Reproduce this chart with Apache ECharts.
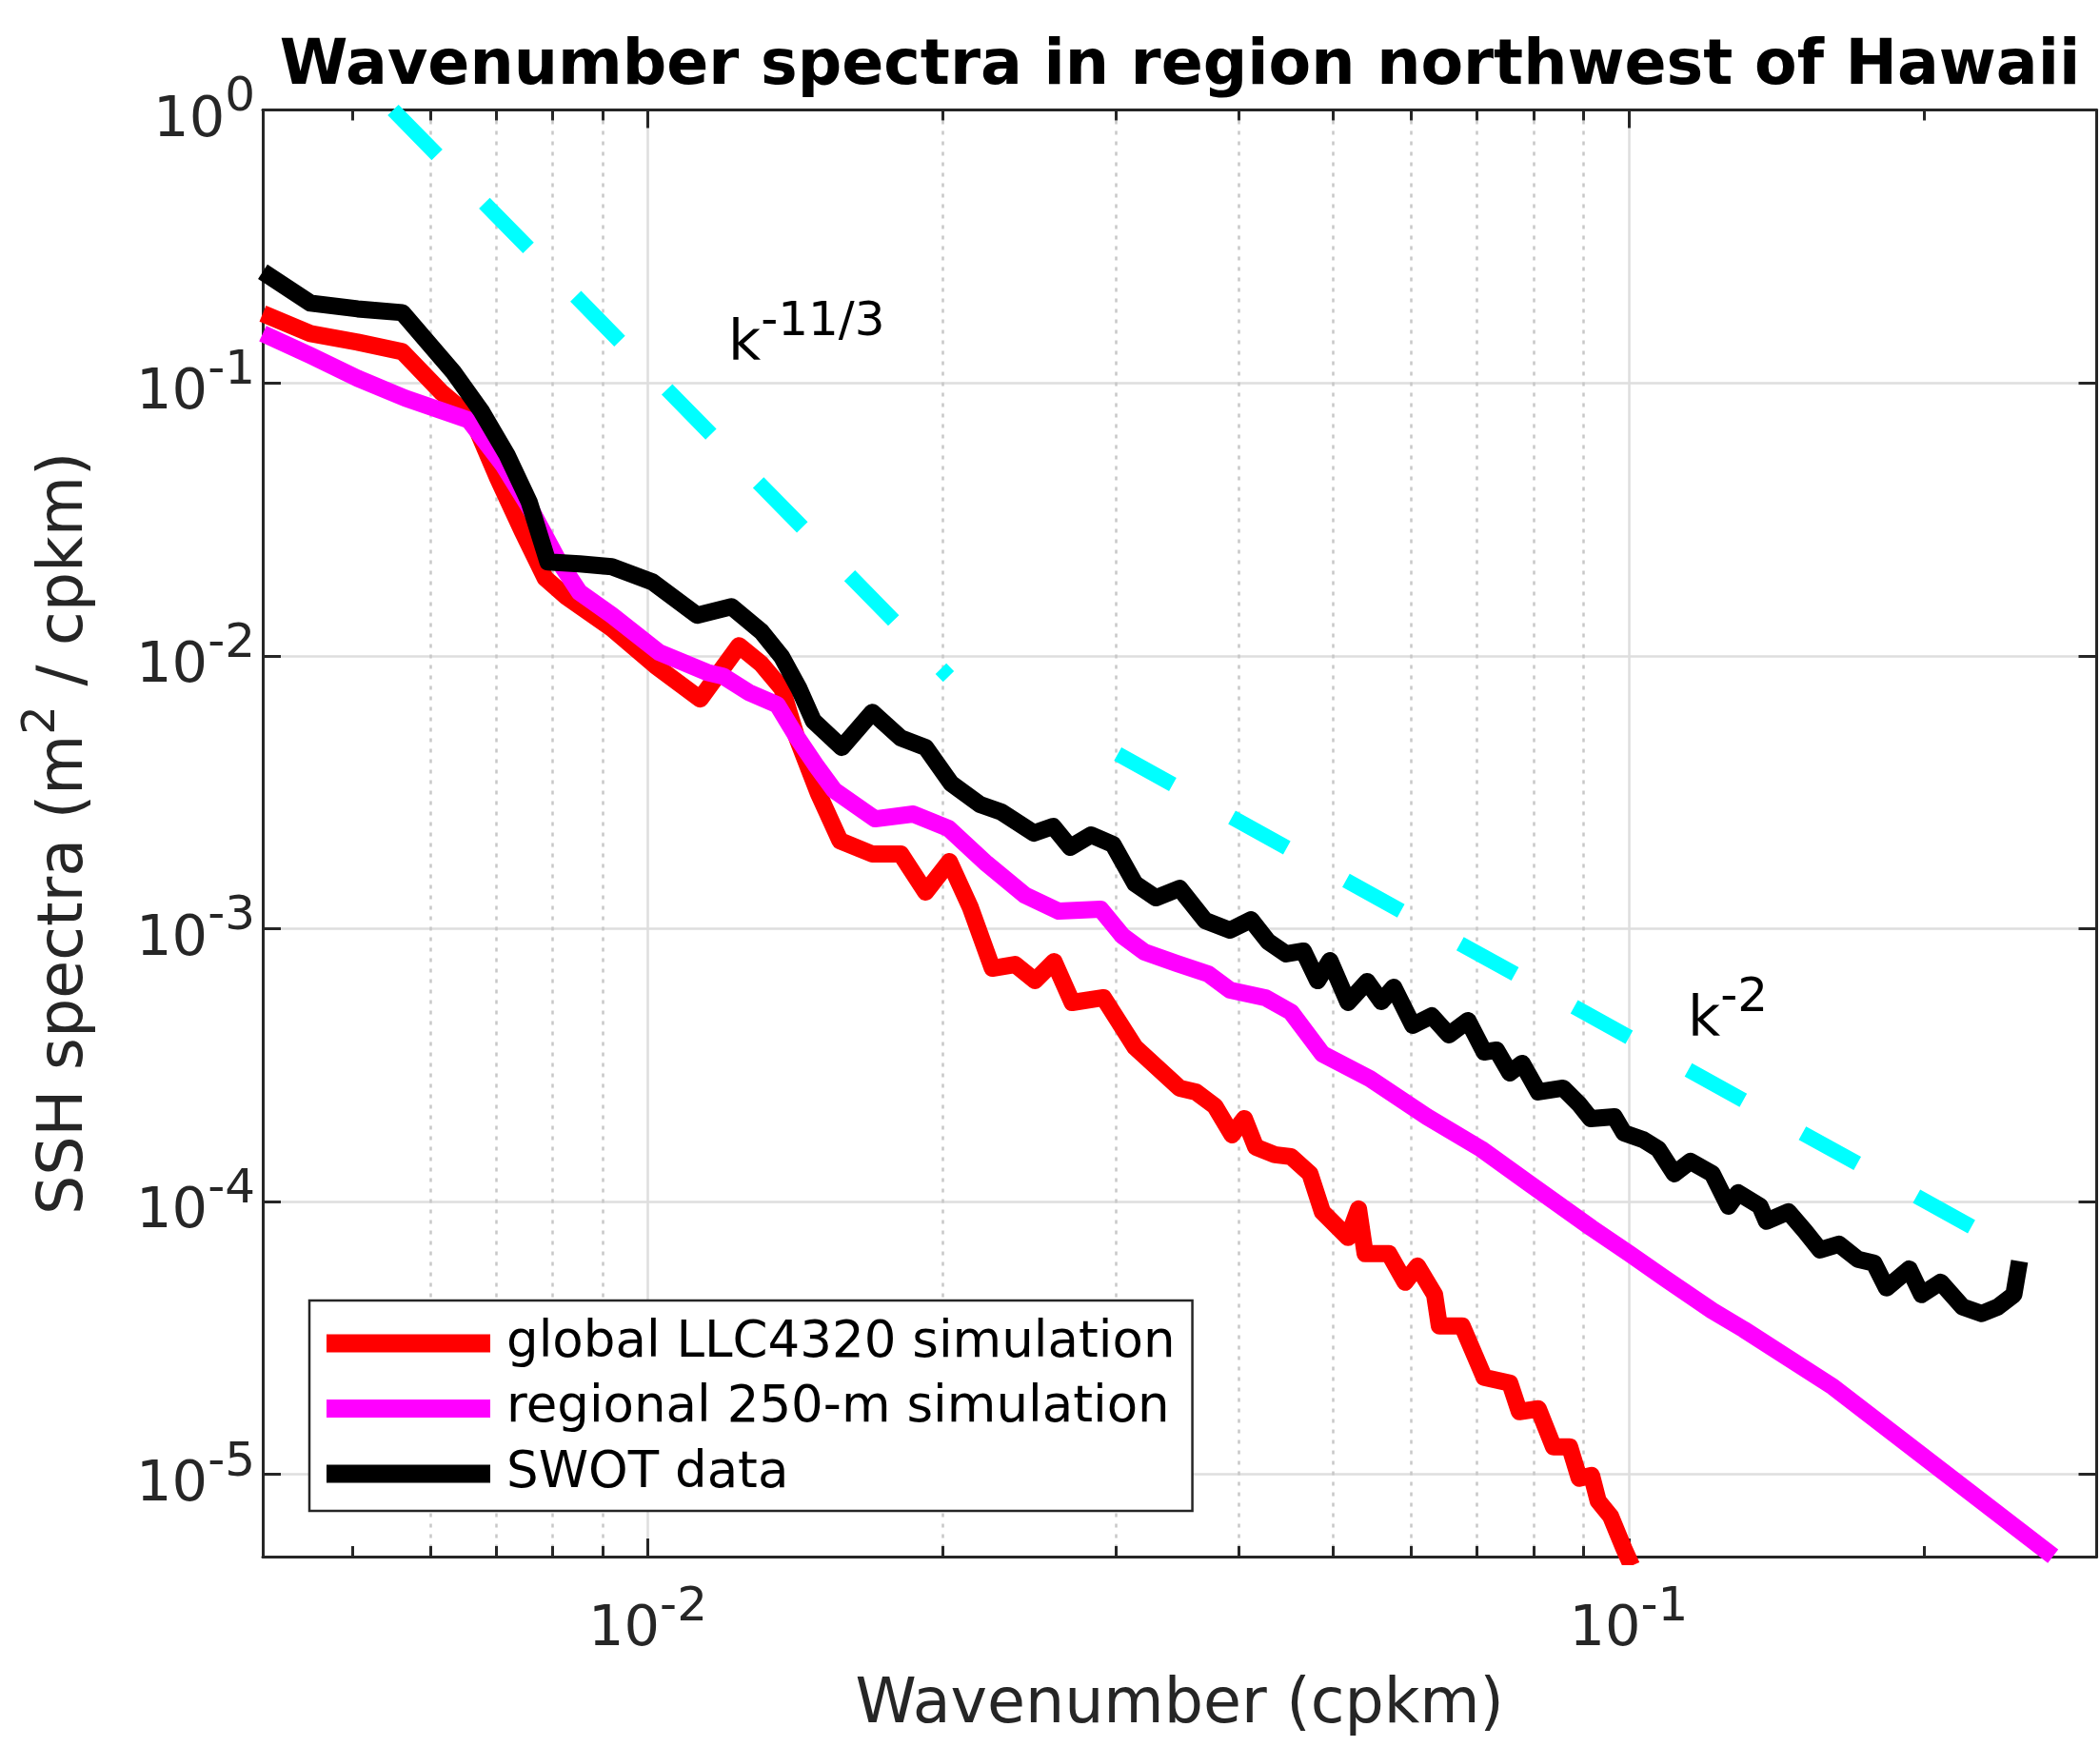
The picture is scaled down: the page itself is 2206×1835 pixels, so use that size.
<!DOCTYPE html>
<html><head><meta charset="utf-8">
<script src="https://cdn.jsdelivr.net/npm/echarts@6/dist/echarts.min.js"></script>
<style>html,body{margin:0;padding:0;background:#fff}#c{width:2206px;height:1835px}</style>
</head><body><div id="c"></div>
<script>
// ---------------- data ----------------
const seriesNames = ['global LLC4320 simulation', 'regional 250-m simulation', 'SWOT data'];

// SWOT data (black)
const swotK = [0.00405,0.00453,0.00506,0.00562,0.00633,0.00677,0.00719,0.00757,0.00791,0.00852,
  0.00919,0.01011,0.01123,0.01217,0.01305,0.01370,0.01426,0.01475,0.01577,0.01694,
  0.01811,0.01920,0.02039,0.02181,0.02295,0.02476,0.02590,0.02696,0.02831,0.02981,
  0.03138,0.03296,0.03485,0.03701,0.03923,0.04121,0.04290,0.04476,0.04660,0.04818,
  0.04960,0.05175,0.05412,0.05596,0.05761,0.06024,0.06298,0.06557,0.06857,0.07123,
  0.07333,0.07566,0.07788,0.08089,0.08572,0.08904,0.09145,0.09671,0.09889,0.1034,
  0.1072,0.1113,0.1156,0.1217,0.1264,0.1293,0.1361,0.1382,0.1455,0.1512,
  0.1567,0.1638,0.1713,0.1779,0.1832,0.1932,0.1989,0.2080,0.2190,0.2290,
  0.2378,0.2470,0.2503];
const swotS = [0.2555,0.1960,0.1867,0.1809,0.1100,0.07846,0.05424,0.03660,0.02207,0.02172,
  0.02120,0.01865,0.01408,0.01513,0.01228,0.009888,0.007588,0.005775,0.004612,0.006207,
  0.004996,0.004612,0.003400,0.002849,0.002672,0.002239,0.002368,0.001985,0.002203,0.002033,
  0.001463,0.001297,0.001405,0.001070,0.0009872,0.001078,0.0008966,0.0008080,0.0008276,0.0006450,
  0.0007634,0.0005363,0.0006398,0.0005406,0.0006097,0.0004421,0.0004793,0.0004082,0.0004604,0.0003532,
  0.0003590,0.0002961,0.0003209,0.0002521,0.0002603,0.0002271,0.0002014,0.0002046,0.0001785,0.0001688,
  0.0001558,0.0001264,0.0001403,0.0001264,0.00009623,0.0001077,0.00009623,0.00008463,0.00009170,0.00007809,
  0.00006650,0.00006979,0.00006138,0.00005943,0.00004824,0.00005662,0.00004560,0.00005062,0.00004108,0.00003884,
  0.00004108,0.00004560,0.00006039];

// global LLC4320 simulation (red)
const llcK = [0.00405,0.00453,0.00506,0.00562,0.00615,0.00662,0.00703,0.00745,0.00786,0.00827,
  0.00919,0.01018,0.01131,0.01239,0.01305,0.01370,0.01417,0.01492,0.01570,0.01694,
  0.01811,0.01920,0.02030,0.02132,0.02245,0.02368,0.02482,0.02595,0.02708,0.02915,
  0.03138,0.03485,0.03621,0.03786,0.03941,0.04057,0.04167,0.04358,0.04526,0.04733,
  0.04872,0.05175,0.05304,0.05387,0.05697,0.05917,0.06091,0.06341,0.06412,0.06765,
  0.07123,0.07566,0.07736,0.08089,0.08382,0.08706,0.08904,0.09166,0.09310,0.09585,
  0.09889,0.1007];
const llcS = [0.1794,0.1516,0.1410,0.1301,0.09288,0.07418,0.04473,0.02854,0.01925,0.01640,
  0.01258,0.009199,0.006945,0.01089,0.009348,0.007588,0.005077,0.003137,0.002100,0.001877,
  0.001877,0.001361,0.001760,0.001197,0.0007160,0.0007394,0.0006450,0.0007576,0.0005363,0.0005584,
  0.0003678,0.0002603,0.0002521,0.0002236,0.0001757,0.0002014,0.0001582,0.0001484,0.0001461,0.0001264,
  0.00009170,0.00007382,0.00009393,0.00006440,0.00006440,0.00005062,0.00005802,0.00004560,0.00003499,0.00003499,
  0.00002267,0.00002161,0.00001699,0.00001740,0.00001262,0.00001262,0.000009685,0.000009920,0.000007988,0.000007025,
  0.000005346,0.000004627];

// regional 250-m simulation (magenta)
const regK = [0.00405,0.00453,0.00506,0.00566,0.00657,0.00712,0.00762,0.00809,0.00852,0.00919,
  0.01027,0.01149,0.01193,0.01267,0.01355,0.01417,0.01482,0.01549,0.01705,0.01865,
  0.02026,0.02215,0.02422,0.02624,0.02895,0.03048,0.03209,0.03462,0.03727,0.03923,
  0.04261,0.04526,0.04872,0.05448,0.06229,0.07074,0.07911,0.09166,0.1002,0.1089,
  0.1217,0.1310,0.1616,0.2708];
const regS = [0.1516,0.1260,0.1039,0.08782,0.07300,0.05004,0.03378,0.02261,0.01707,0.01408,
  0.01029,0.008697,0.008423,0.007347,0.006619,0.005077,0.003992,0.003214,0.002526,0.002630,
  0.002330,0.001732,0.001329,0.001159,0.001178,0.0009408,0.0008207,0.0007455,0.0006823,0.0005954,
  0.0005584,0.0004949,0.0003476,0.0002821,0.0002046,0.0001558,0.0001167,0.00008000,0.00006440,0.00005228,
  0.00003979,0.00003400,0.00002093,0.000005012];

// reference slopes (cyan dashed)
const slopeAK = [0.0055, 0.02026];   const slopeAS = [1.0, 0.00839];       // k^-11/3
const slopeBK = [0.03014, 0.2239];   const slopeBS = [0.00436, 0.0000807]; // k^-2
const slopeLabels = [['k', '-11/3'], ['k', '-2']];

// axes
const xMin = 0.00405, xMax = 0.3;
const yMin = 0.000005, yMax = 1;
const xMinorTicks = [0.005,0.006,0.007,0.008,0.009,0.02,0.03,0.04,0.05,0.06,0.07,0.08,0.09,0.2];

const titleText = 'Wavenumber spectra in region northwest of Hawaii';
const xName = 'Wavenumber (cpkm)';
const yNameParts = ['SSH spectra (m', '2', ' / cpkm)'];

// ---------------- chart ----------------
const FONT = 'DejaVu Sans';
const AX = '#262626';
const pairs = (xs, ys) => xs.map((x, i) => [x, ys[i]]);
function decadeLabel(v) {
  const e = Math.log10(v), r = Math.round(e);
  if (Math.abs(e - r) > 1e-6) return '';
  return '{b|10}{s|' + r + '}';
}
const richTick = {
  b: {fontSize: 59, fontFamily: FONT, color: AX, height: 66, lineHeight: 90, verticalAlign: 'bottom'},
  s: {fontSize: 50, fontFamily: FONT, color: AX, height: 66, lineHeight: 66, verticalAlign: 'top'}
};
const richAnn = {
  b: {fontSize: 59, fontFamily: FONT, fill: '#000', color: '#000', height: 66, lineHeight: 90, verticalAlign: 'bottom'},
  s: {fontSize: 50, fontFamily: FONT, fill: '#000', color: '#000', height: 66, lineHeight: 66, verticalAlign: 'top'}
};
const axLine = {show: true, onZero: false, lineStyle: {color: AX, width: 3}};
const majorTick = {show: true, inside: true, length: 19, lineStyle: {color: AX, width: 3}};
const minorTick = {show: true, inside: true, length: 11, customValues: xMinorTicks, lineStyle: {color: AX, width: 3}};
const xBase = {type: 'log', logBase: 10, min: xMin, max: xMax, gridIndex: 0};
const yBase = {type: 'log', logBase: 10, min: yMin, max: yMax, gridIndex: 0};
const dash = [66, 71];

const chart = echarts.init(document.getElementById('c'), null, {renderer: 'canvas'});
chart.setOption({
  animation: false,
  backgroundColor: '#ffffff',
  grid: {left: 276, right: 3.5, top: 115.5, bottom: 200, containLabel: false, outerBoundsMode: 'none'},
  xAxis: [
    Object.assign({}, xBase, {
      position: 'bottom', axisLine: axLine, axisTick: majorTick,
      axisLabel: {show: true, margin: 21, formatter: decadeLabel, rich: richTick, color: AX, fontFamily: FONT, fontSize: 59,
                  showMinLabel: true, showMaxLabel: true},
      splitLine: {show: true, showMinLine: false, showMaxLine: false, lineStyle: {color: '#dedede', width: 2.5}},
      name: xName, nameLocation: 'middle', nameGap: 125,
      nameTextStyle: {fontFamily: FONT, fontSize: 65, color: AX, lineHeight: 65}
    }),
    Object.assign({}, xBase, {
      position: 'bottom', axisLine: {show: false}, axisLabel: {show: false}, axisTick: minorTick,
      splitLine: {show: true, showMinLine: false, showMaxLine: false, lineStyle: {color: '#c8c8c8', width: 2.5, type: [4, 7]}}
    }),
    Object.assign({}, xBase, {
      position: 'top', axisLine: axLine, axisTick: majorTick, axisLabel: {show: false}, splitLine: {show: false}
    }),
    Object.assign({}, xBase, {
      position: 'top', axisLine: {show: false}, axisTick: minorTick, axisLabel: {show: false}, splitLine: {show: false}
    })
  ],
  yAxis: [
    Object.assign({}, yBase, {
      position: 'left', axisLine: axLine, axisTick: majorTick,
      axisLabel: {show: true, margin: 8, formatter: decadeLabel, rich: richTick, color: AX, fontFamily: FONT, fontSize: 59,
                  showMinLabel: true, showMaxLabel: true},
      splitLine: {show: true, showMinLine: false, showMaxLine: false, lineStyle: {color: '#dedede', width: 2.5}},
      name: '{n|' + yNameParts[0] + '}{s|' + yNameParts[1] + '}{n|' + yNameParts[2] + '}',
      nameLocation: 'middle', nameGap: 171,
      nameTextStyle: {fontFamily: FONT, fontSize: 65, color: AX,
        rich: {
          n: {fontFamily: FONT, fontSize: 65, color: AX, height: 72, lineHeight: 96, verticalAlign: 'bottom'},
          s: {fontFamily: FONT, fontSize: 48, color: AX, height: 72, lineHeight: 72, verticalAlign: 'top'}
        }}
    }),
    Object.assign({}, yBase, {
      position: 'right', axisLine: axLine, axisTick: majorTick, axisLabel: {show: false}, splitLine: {show: false}
    })
  ],
  legend: {
    show: true, z: 20, zlevel: 0, data: seriesNames, orient: 'vertical', left: 325, top: 1366,
    padding: [17, 18, 11, 18], itemGap: 12.5, itemWidth: 172, itemHeight: 19, icon: 'rect',
    selectedMode: false, backgroundColor: '#ffffff', borderColor: AX, borderWidth: 2.5, borderRadius: 0,
    formatter: n => '{t|' + n + '}',
    textStyle: {fontFamily: FONT, fontSize: 53, color: '#000', lineHeight: 56,
      rich: {t: {fontFamily: FONT, fontSize: 53, color: '#000', padding: [0, 0, 0, 12]}}}
  },
  series: [
    {name: 'k-11/3', type: 'line', data: pairs(slopeAK, slopeAS), showSymbol: false, symbol: 'none', silent: true, z: 2,
     lineStyle: {color: '#00ffff', width: 16, type: dash, cap: 'butt'}, itemStyle: {color: '#00ffff'}},
    {name: 'k-2', type: 'line', data: pairs(slopeBK, slopeBS), showSymbol: false, symbol: 'none', silent: true, z: 2,
     lineStyle: {color: '#00ffff', width: 16, type: dash, cap: 'butt'}, itemStyle: {color: '#00ffff'}},
    {name: seriesNames[0], type: 'line', data: pairs(llcK, llcS), showSymbol: false, symbol: 'none', silent: true, z: 3,
     lineStyle: {color: '#ff0000', width: 18, join: 'round'}, itemStyle: {color: '#ff0000'}},
    {name: seriesNames[1], type: 'line', data: pairs(regK, regS), showSymbol: false, symbol: 'none', silent: true, z: 4,
     lineStyle: {color: '#ff00ff', width: 18, join: 'round'}, itemStyle: {color: '#ff00ff'}},
    {name: seriesNames[2], type: 'line', data: pairs(swotK, swotS), showSymbol: false, symbol: 'none', silent: true, z: 5,
     lineStyle: {color: '#000000', width: 18, join: 'round'}, itemStyle: {color: '#000000'}}
  ],
  graphic: [
    {type: 'text', x: 1239.5, y: 39, silent: true, z: 20,
     style: {text: titleText, fontFamily: FONT, fontSize: 65, fontWeight: 'bold', fill: '#000',
             align: 'center', verticalAlign: 'top', lineHeight: 65}},
    {type: 'text', x: 765, y: 306, silent: true, z: 20,
     style: {text: '{b|' + slopeLabels[0][0] + '}{s|' + slopeLabels[0][1] + '}', rich: richAnn, fill: '#000',
             fontFamily: FONT, fontSize: 59, align: 'left', verticalAlign: 'top'}},
    {type: 'text', x: 1773, y: 1016, silent: true, z: 20,
     style: {text: '{b|' + slopeLabels[1][0] + '}{s|' + slopeLabels[1][1] + '}', rich: richAnn, fill: '#000',
             fontFamily: FONT, fontSize: 59, align: 'left', verticalAlign: 'top'}}
  ]
});
</script>
</body></html>
